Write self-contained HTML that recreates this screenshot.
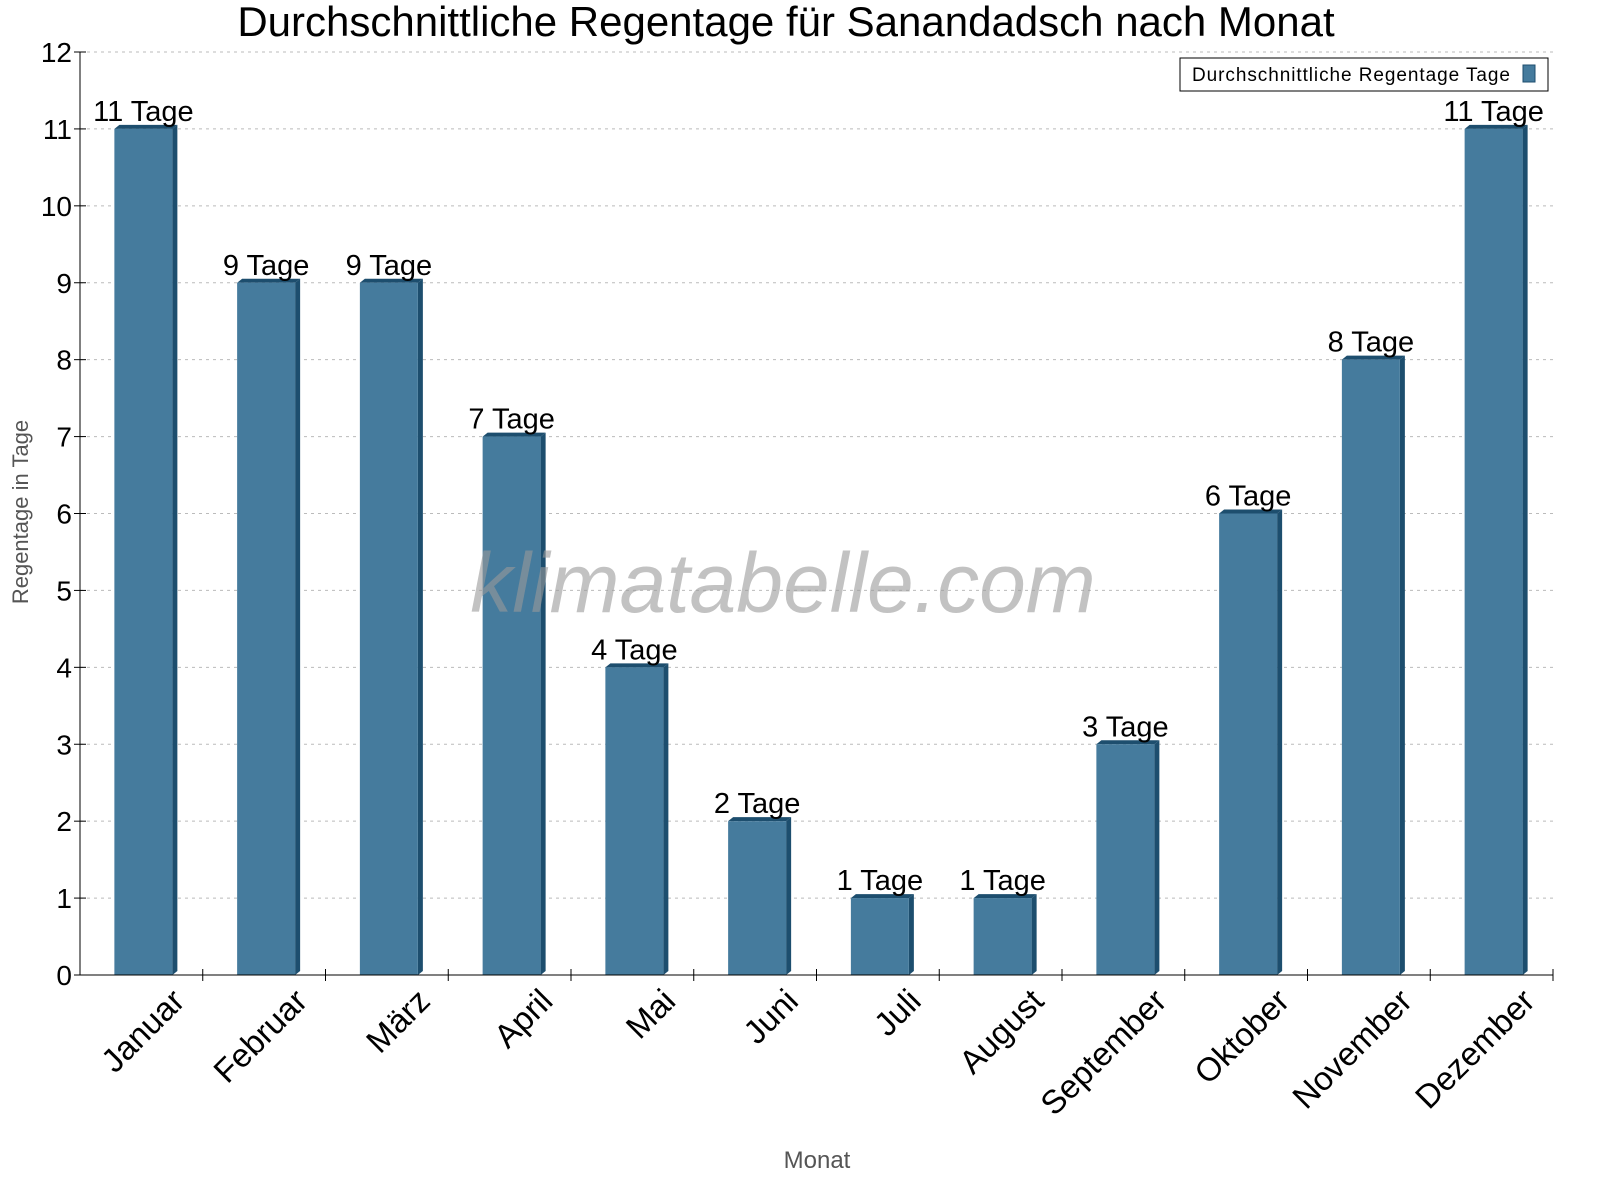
<!DOCTYPE html>
<html><head><meta charset="utf-8"><style>
body{margin:0;background:#fff;font-family:"Liberation Sans",sans-serif}
svg{display:block}
</style></head><body>
<svg id="c" width="1600" height="1200" font-family="Liberation Sans, sans-serif">
<text x="786" y="36" font-size="42" text-anchor="middle">Durchschnittliche Regentage für Sanandadsch nach Monat</text>
<g id="grid"></g>
<g id="bars"></g>
<text x="783" y="612" font-size="84" font-style="italic" fill="#999" fill-opacity="0.6" text-anchor="middle">klimatabelle.com</text>
<g id="axes"></g>
<text x="28" y="512" font-size="22" fill="#555" text-anchor="middle" transform="rotate(-90 28 512)">Regentage in Tage</text>
<text x="817" y="1168" font-size="24" fill="#555" text-anchor="middle">Monat</text>
<g>
<rect x="1180" y="58" width="368" height="33" fill="#fff" stroke="#000" stroke-width="1"/>
<text x="1192" y="81" font-size="19" textLength="318">Durchschnittliche Regentage Tage</text>
<rect x="1523" y="65" width="12" height="17" fill="#457b9d" stroke="#1d4e6e"/>
</g>
</svg>
<script>
const categories=["Januar","Februar","März","April","Mai","Juni","Juli","August","September","Oktober","November","Dezember"];
const values=[11,9,9,7,4,2,1,1,3,6,8,11];
const yTicks=[0,1,2,3,4,5,6,7,8,9,10,11,12];
const L=80,R=1553,T=52,B=975,maxY=12;
const ns="http://www.w3.org/2000/svg";
const y=v=>B-(B-T)*v/maxY;
const bw=(R-L)/categories.length;
const xc=i=>L+bw*(i+0.5);
function mk(tag,attrs,parent,txt){const e=document.createElementNS(ns,tag);for(const k in attrs)e.setAttribute(k,attrs[k]);if(txt!==undefined)e.textContent=txt;parent.appendChild(e);return e;}
const grid=document.getElementById('grid'),bars=document.getElementById('bars'),axes=document.getElementById('axes');
yTicks.forEach(t=>{
  if(t>0){const g=mk('line',{x1:L,x2:R,y1:y(t),y2:y(t),stroke:'#bbb','stroke-dasharray':'3,4'},grid);
  
  }
  const tk=mk('line',{x1:L-6,x2:L+6,y1:y(t),y2:y(t),stroke:'#000'},axes);
  
  
  const lb=mk('text',{x:L-8,y:y(t)+10,'font-size':28,'text-anchor':'end'},axes,String(t));
  
  
});
mk('line',{x1:L,x2:L,y1:T,y2:B,stroke:'#000'},axes);
mk('line',{x1:L,x2:R,y1:B,y2:B,stroke:'#000'},axes);
categories.forEach((c,i)=>{
  const x0=xc(i)-27,w=58,yt=y(values[i]),d=5;
  const g=mk('g',{},bars);
  
  
  mk('polygon',{points:`${x0+w},${yt} ${x0+w+d},${yt-4} ${x0+w+d},${B-4} ${x0+w},${B}`,fill:'#1d4e6e'},g);
  mk('polygon',{points:`${x0},${yt} ${x0+d},${yt-4} ${x0+w+d},${yt-4} ${x0+w},${yt}`,fill:'#1d4e6e'},g);
  mk('rect',{x:x0,y:yt,width:w,height:B-yt,fill:'#457b9d'},g);
  const vl=mk('text',{x:xc(i)+2,y:yt-8,'font-size':29,'text-anchor':'middle'},bars,values[i]+' Tage');
  
  
  const tk=mk('line',{x1:L+bw*(i+1),x2:L+bw*(i+1),y1:B-6,y2:B+6,stroke:'#000'},axes);
  
  
  const xl=mk('text',{x:xc(i)+45,y:B+28,'font-size':33,'text-anchor':'end',transform:`rotate(-45 ${xc(i)+45} ${B+28})`},axes,c);
  
  
});
</script>
</body></html>
